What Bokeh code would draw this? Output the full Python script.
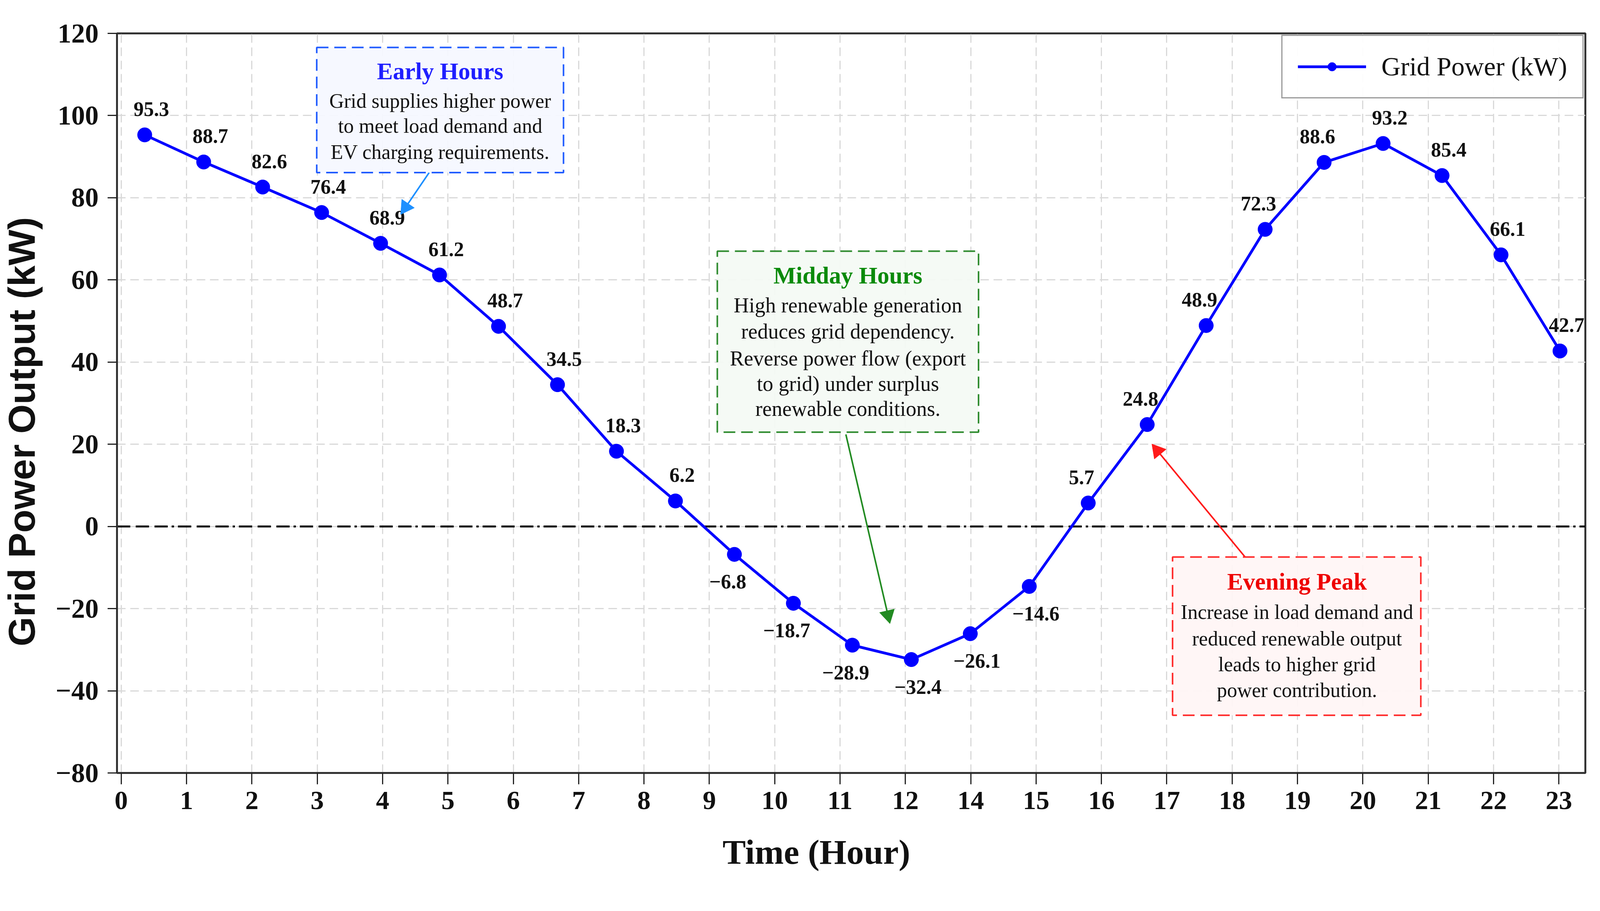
import math
from bokeh.plotting import figure
from bokeh.models import (Range1d, FixedTicker, ColumnDataSource, Legend, LegendItem,
                          BoxAnnotation, Label, Span)
from bokeh.embed import file_html
from bokeh.resources import INLINE
from bokeh.core.properties import value
try:
    from bokeh.models import HTMLTitle
except ImportError:
    HTMLTitle = None

# ---------------- data ----------------
grid_power = [95.3, 88.7, 82.6, 76.4, 68.9, 61.2, 48.7, 34.5, 18.3, 6.2,
              -6.8, -18.7, -28.9, -32.4, -26.1, -14.6, 5.7, 24.8, 48.9, 72.3,
              88.6, 93.2, 85.4, 66.1, 42.7]
hour_tick_labels = ["0", "1", "2", "3", "4", "5", "6", "7", "8", "9", "10", "11",
                    "12", "14", "15", "16", "17", "18", "19", "20", "21", "22", "23"]
y_tick_values = [-60, -40, -20, 0, 20, 40, 60, 80, 100, 120]
y_tick_labels = ["\u221280", "\u221240", "\u221220", "0", "20", "40", "60", "80", "100", "120"]
series_name = "Grid Power (kW)"
x_title = "Time (Hour)"
y_title = "Grid Power Output (kW)"

FONT = "Liberation Serif"
S = 0.972            # overall pixel scale so that the page fits the window


def px(v):
    return int(round(v * S))


def fs(v):
    return f"{px(v)}px"


samples = list(range(len(grid_power)))
labels = [f"{v:.1f}".replace("-", "\u2212") for v in grid_power]

# label placement rule: above for positive, below for negative, pushed away from the line
y_off, x_off = [], []
n = len(grid_power)
for i, v in enumerate(grid_power):
    side = 1 if v >= 0 else -1
    a = grid_power[max(i - 1, 0)]
    b = grid_power[min(i + 1, n - 1)]
    s = 1 if b > a else -1
    y_off.append(px(-68) if side > 0 else px(72))
    x_off.append(-s * side * px(18))

src = ColumnDataSource(dict(x=samples, y=grid_power, t=labels, yo=y_off, xo=x_off))

# ---------------- figure ----------------
W, H = px(4189), px(2317)
BL, BR, BT, BB = px(308), px(14), px(87), px(281)
X0, X1, Y0, Y1 = -0.47, 24.43, -60, 120
p = figure(width=W, height=H, output_backend="svg", toolbar_location=None,
           x_range=Range1d(X0, X1), y_range=Range1d(Y0, Y1),
           min_border_left=BL, min_border_right=BR, min_border_top=BT,
           min_border_bottom=BB, background_fill_color="white",
           border_fill_color="white")
FW, FH = W - BL - BR, H - BT - BB
PX_X = FW / (X1 - X0)   # screen px per x unit
PX_Y = FH / (Y1 - Y0)   # screen px per y unit

p.outline_line_color = "#333333"
p.outline_line_width = px(5)

# x axis ticks (hour labels)
tick_pos = [round(-0.399 + 1.1082 * j, 4) for j in range(len(hour_tick_labels))]
p.xaxis.ticker = FixedTicker(ticks=tick_pos)
p.xaxis.major_label_overrides = {tp: lab for tp, lab in zip(tick_pos, hour_tick_labels)}
p.yaxis.ticker = FixedTicker(ticks=y_tick_values)
p.yaxis.major_label_overrides = {tv: lab for tv, lab in zip(y_tick_values, y_tick_labels)}

for ax in (p.xaxis, p.yaxis):
    ax.axis_line_color = "#333333"
    ax.axis_line_width = px(5)
    ax.major_tick_line_color = "#222222"
    ax.major_tick_line_width = 3
    ax.major_tick_in = 0
    ax.minor_tick_line_color = None
    ax.major_label_text_font = FONT
    ax.major_label_text_font_style = "bold"
    ax.major_label_text_color = "#111111"
p.xaxis.major_tick_out = px(30)
p.yaxis.major_tick_out = px(25)
p.xaxis.major_label_text_font_size = fs(70)
p.yaxis.major_label_text_font_size = fs(72)
p.xaxis.major_label_standoff = px(20)
p.yaxis.major_label_standoff = px(24)

# x title (horizontal axis label, nudged left by trailing padding)
p.xaxis.axis_label = x_title + "\u00a0" * 8
p.xaxis.axis_label_text_font = FONT
p.xaxis.axis_label_text_font_style = "bold"
p.xaxis.axis_label_text_color = "#111111"
p.xaxis.axis_label_text_font_size = fs(92)
p.xaxis.axis_label_standoff = px(60)

# y title (HTML title in the left panel, rotated by the browser)
if HTMLTitle is not None:
    p.add_layout(HTMLTitle(text="\u00a0" * 12 + y_title, align="center",
                           vertical_align="bottom", standoff=px(10),
                           text_font="'Liberation Serif', 'Times New Roman', serif",
                           text_font_style="bold", text_font_size=fs(100),
                           text_color="#111111"), "left")

for g in (p.xgrid, p.ygrid):
    g.grid_line_color = "#d9d9d9"
    g.grid_line_width = 3
    g.grid_line_dash = "22 12"

# zero reference line
zero = Span(location=0, dimension="width", line_color="black", line_width=px(5),
            line_dash="34 14 34 14 34 10 6 10", level="underlay")
p.add_layout(zero)

# series
ln = p.line("x", "y", source=src, line_color="#0000ff", line_width=px(7))
mk = p.scatter("x", "y", source=src, size=px(38), marker="circle",
               fill_color="#0000ff", line_color="#0000ff")

p.text("x", "y", text="t", source=src, x_offset="xo", y_offset="yo",
       text_align="center", text_baseline="middle",
       text_font=value(FONT), text_font_style="bold", text_font_size=fs(54),
       text_color="#111111")

# ---------------- annotation boxes ----------------
boxes = [
    dict(left=2.917, right=7.102, top=116.58, bottom=86.11, cx=5.01,
         border="#1f5bff", fill="#f5f8ff", title="Early Hours", tcolor="#1f1fff",
         ty=110.76, body=["Grid supplies higher power", "to meet load demand and",
                          "EV charging requirements."],
         by=[103.56, 97.47, 91.09], fs=53),
    dict(left=9.71, right=14.14, top=66.99, bottom=22.94, cx=11.925,
         border="#2e8b2e", fill="#f4faf4", title="Midday Hours", tcolor="#0a8a0a",
         ty=61.08, body=["High renewable generation", "reduces grid dependency.",
                         "Reverse power flow (export", "to grid) under surplus",
                         "renewable conditions."],
         by=[53.78, 47.41, 40.85, 34.67, 28.66], fs=56),
    dict(left=17.43, right=21.64, top=-7.45, bottom=-45.96, cx=19.54,
         border="#ff2a2a", fill="#fff6f6", title="Evening Peak", tcolor="#ee0000",
         ty=-13.45, body=["Increase in load demand and", "reduced renewable output",
                          "leads to higher grid", "power contribution."],
         by=[-20.84, -27.30, -33.58, -39.86], fs=54),
]
for b in boxes:
    p.add_layout(BoxAnnotation(left=b["left"], right=b["right"], top=b["top"],
                               bottom=b["bottom"], fill_color=b["fill"], fill_alpha=0.95,
                               line_color=b["border"], line_alpha=1.0, line_width=px(4),
                               line_dash="30 15"))
    p.add_layout(Label(x=b["cx"], y=b["ty"], text=b["title"], text_align="center",
                       text_baseline="middle", text_font=FONT, text_font_style="bold",
                       text_font_size=fs(63), text_color=b["tcolor"]))
    for line_txt, yy in zip(b["body"], b["by"]):
        p.add_layout(Label(x=b["cx"], y=yy, text=line_txt, text_align="center",
                           text_baseline="middle", text_font=FONT,
                           text_font_size=fs(b["fs"]), text_color="#111111"))

# ---------------- arrows (shaft + triangular head) ----------------
arrows = [
    dict(x0=4.823, y0=86.11, x1=4.359, y1=76.32, c="#1e90ff"),
    dict(x0=11.89, y0=22.4, x1=12.63, y1=-23.2, c="#228b22"),
    dict(x0=18.66, y0=-7.45, x1=17.10, y1=19.7, c="#ff1a1a"),
]
HEAD = px(40)
for a in arrows:
    dxp = (a["x1"] - a["x0"]) * PX_X
    dyp = (a["y1"] - a["y0"]) * PX_Y
    L = math.hypot(dxp, dyp)
    ux, uy = dxp / L, dyp / L
    back = HEAD * 0.45
    hx = a["x1"] - ux * back / PX_X
    hy = a["y1"] - uy * back / PX_Y
    ang = math.atan2(dyp, dxp) - math.pi / 2
    p.segment(x0=[a["x0"]], y0=[a["y0"]], x1=[hx], y1=[hy],
              line_color=a["c"], line_width=px(4))
    p.scatter(x=[hx], y=[hy], marker="triangle", size=HEAD, angle=ang,
              fill_color=a["c"], line_color=a["c"])

# ---------------- legend ----------------
legend = Legend(items=[LegendItem(label=series_name, renderers=[ln, mk])],
                location="top_right", orientation="vertical",
                label_text_font=FONT, label_text_font_size=fs(70),
                label_text_color="#111111", glyph_width=px(180), glyph_height=px(57),
                label_height=px(57), label_standoff=px(40), padding=px(40), margin=4,
                border_line_color="#333333", border_line_width=3,
                background_fill_color="white", background_fill_alpha=0.95)
p.add_layout(legend, "center")

open("out.html", "w").write(file_html(p, INLINE))
